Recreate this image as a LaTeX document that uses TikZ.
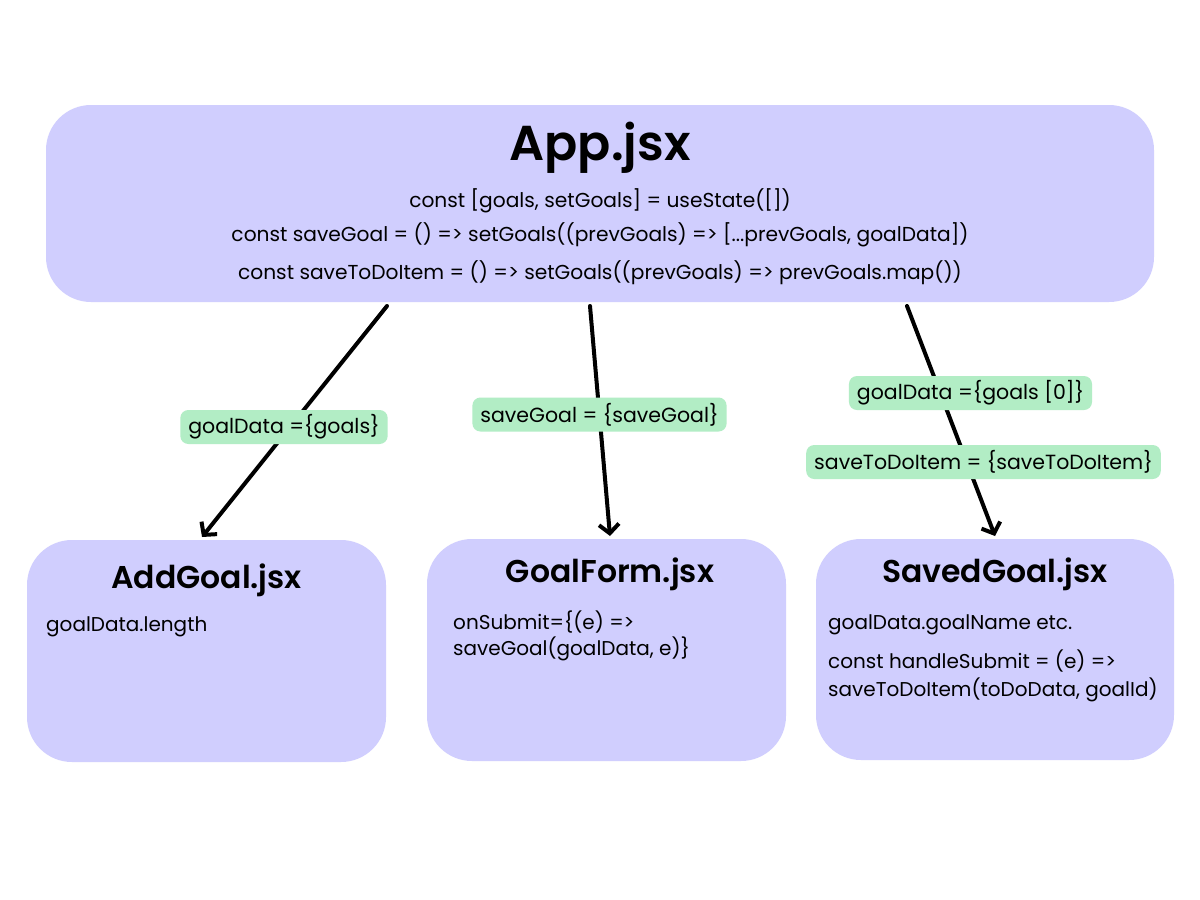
\documentclass[tikz,border=0pt]{standalone}
\usepackage{fontspec}
\setmainfont{Poppins}[BoldFont={* SemiBold}]
\usetikzlibrary{arrows.meta}
\definecolor{boxfill}{HTML}{D0CEFE}
\definecolor{tagfill}{HTML}{B2EDC5}
\tikzset{
  compbox/.style={fill=boxfill, draw=none, rounded corners=45pt, inner sep=0pt},
  title/.style={font=\bfseries\fontsize{31.5}{38}\selectfont, anchor=base},
  code/.style={font=\fontsize{20}{24}\selectfont, anchor=base west, inner sep=0pt},
  topcode/.style={font=\fontsize{20.2}{24}\selectfont, anchor=base, inner sep=0pt},
  tag/.style={fill=tagfill, rounded corners=8pt, font=\fontsize{20.5}{24}\selectfont, inner xsep=8pt, inner ysep=0pt, minimum height=34pt, anchor=center},
  flow/.style={line width=4pt, -{Straight Barb[length=9pt,width=20pt,line width=4pt]}, line cap=round}
}
\begin{document}
\begin{tikzpicture}[x=1pt,y=-1pt]
\useasboundingbox (0,0) rectangle (1200,900);
\fill[white] (0,0) rectangle (1200,900);
% boxes
\node[compbox, minimum width=1108pt, minimum height=197pt] (app) at (600,203.5) {};
\node[compbox, minimum width=359pt, minimum height=222pt] (addgoal) at (206.5,651) {};
\node[compbox, minimum width=359pt, minimum height=222pt] (goalform) at (606.5,650) {};
\node[compbox, minimum width=358pt, minimum height=221pt] (savedgoal) at (995,649.5) {};
% top texts
\node[title, font=\bfseries\fontsize{49}{58}\selectfont] (apptitle) at (600,160) {App.jsx};
\node[topcode] (l1) at (600,207) {const [goals, setGoals] = useState([])};
\node[topcode] (l2) at (600,241) {const saveGoal = () => setGoals((prevGoals) => [...prevGoals, goalData])};
\node[topcode] (l3) at (600,279) {const saveToDoItem = () => setGoals((prevGoals) => prevGoals.map())};
% child titles
\node[title] (agt) at (206.5,588) {AddGoal.jsx};
\node[title] (gft) at (610,582) {GoalForm.jsx};
\node[title] (sgt) at (995,582) {SavedGoal.jsx};
% child code
\node[code] (ag1) at (46,631) {goalData.length};
\node[code] (gf1) at (453,629) {onSubmit=\{(e) =>};
\node[code] (gf2) at (453,655) {saveGoal(goalData, e)\}};
\node[code] (sg1) at (828,629) {goalData.goalName etc.};
\node[code] (sg2) at (828,668) {const handleSubmit = (e) =>};
\node[code] (sg3) at (828,696) {saveToDoItem(toDoData, goalId)};
% arrows
\coordinate (s1) at (387,306);
\coordinate (e1) at (202,537);
\coordinate (s2) at (590,306);
\coordinate (e2) at (610,536);
\coordinate (s3) at (907,306);
\coordinate (e3) at (995,536);
\draw[flow] (s1) -- (e1);
\draw[flow] (s2) -- (e2);
\draw[flow] (s3) -- (e3);
% tags
\node[tag] (t1) at (284,427) {goalData =\{goals\}};
\node[tag] (t2) at (599.5,414.5) {saveGoal = \{saveGoal\}};
\node[tag] (t3) at (970.5,393) {goalData =\{goals [0]\}};
\node[tag] (t4) at (983.5,462) {saveToDoItem = \{saveToDoItem\}};
\end{tikzpicture}
\end{document}
